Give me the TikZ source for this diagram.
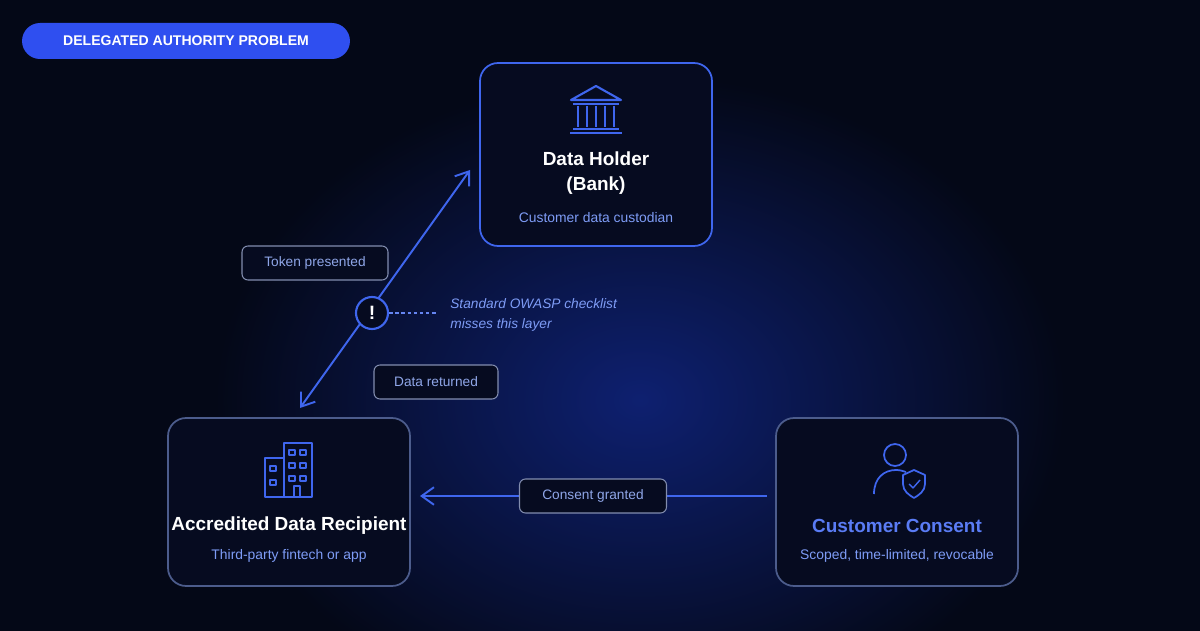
\documentclass[tikz,border=0pt]{standalone}
\usepackage{fontspec}
\setmainfont{Liberation Sans}
\usetikzlibrary{arrows.meta}
\definecolor{bg}{HTML}{040817}
\definecolor{glow}{HTML}{0E2070}
\definecolor{boxfill}{HTML}{060B20}
\definecolor{blueline}{HTML}{3F66EE}
\definecolor{greyline}{HTML}{4C5C8C}
\definecolor{subtxt}{HTML}{7E9CF6}
\definecolor{pill}{HTML}{2F4FF0}
\definecolor{lbltxt}{HTML}{8FA6E8}
\definecolor{titletxt}{HTML}{5A7CF5}
\tikzset{
  box/.style={draw=#1, line width=1pt, fill=boxfill, rounded corners=0.36cm},
  lbl/.style={draw=greyline!70, line width=0.6pt, fill=boxfill, rounded corners=0.12cm, text=lbltxt, font=\fontsize{7.8}{10}\selectfont, minimum height=0.68cm},
  ttl/.style={font=\bfseries\fontsize{10.8}{14}\selectfont, text=white, align=center},
  sub/.style={font=\fontsize{7.9}{10}\selectfont, text=subtxt},
  icon/.style={draw=blueline, line width=1pt, line join=round},
  conn/.style={draw=blueline, line width=1.1pt}
}
\begin{document}
\begin{tikzpicture}[x=0.02cm,y=-0.02cm]
\fill[bg] (0,0) rectangle (1200,631);
\begin{scope}
\clip (0,0) rectangle (1200,631);
\shade[inner color=glow, outer color=bg] (640,400) ellipse (8.5cm and 6.5cm);
\end{scope}
\useasboundingbox (0,0) rectangle (1200,631);

% title pill
\node[fill=pill, rounded corners=0.36cm, minimum width=6.56cm, minimum height=0.72cm, text=white, font=\bfseries\fontsize{8}{10}\selectfont] (title) at (186,41) {DELEGATED AUTHORITY PROBLEM};

% main boxes
\node[box=blueline, minimum width=4.64cm, minimum height=3.66cm] (dh) at (596,154.5) {};
\node[box=greyline, minimum width=4.84cm, minimum height=3.36cm] (adr) at (289,502) {};
\node[box=greyline, minimum width=4.84cm, minimum height=3.36cm] (cc) at (897,502) {};

% texts
\node[ttl] (dht) at (596,173) {Data Holder\\(Bank)};
\node[sub] (dhs) at (596,218) {Customer data custodian};
\node[ttl] (adrt) at (289,526) {Accredited Data Recipient};
\node[sub] (adrs) at (289,556) {Third-party fintech or app};
\node[ttl, text=titletxt] (cct) at (897,526) {Customer Consent};
\node[sub] (ccs) at (897,556) {Scoped, time-limited, revocable};

% bank icon
\draw[icon, line width=1.2pt] (571,100) -- (596,86) -- (621,100) -- cycle;
\draw[icon] (573,104) -- (619,104);
\foreach \xx in {578,587,596,605,614} \draw[icon] (\xx,106) -- (\xx,127);
\draw[icon] (573,129) -- (619,129);
\draw[icon, line width=1.3pt] (570,133) -- (622,133);

% building icon
\draw[icon] (284,443) rectangle (312,497);
\draw[icon] (265,458) rectangle (284,497);
\foreach \yy in {450,463,476} {\draw[icon,line width=0.8pt] (289,\yy) rectangle (295,\yy+5); \draw[icon,line width=0.8pt] (300,\yy) rectangle (306,\yy+5);}
\foreach \yy in {466,480} \draw[icon,line width=0.8pt] (270,\yy) rectangle (276,\yy+5);
\draw[icon,line width=0.8pt] (294,497) -- (294,486) -- (300,486) -- (300,497);

% person icon
\draw[icon] (895,455) circle (0.22cm);
\draw[icon] (874,494) .. controls (874,478) and (884,470) .. (896,470) .. controls (900,470) and (903,471) .. (906,472);
\draw[icon] (914,470) -- (925,475) -- (925,484) .. controls (925,491) and (919,495) .. (914,498) .. controls (909,495) and (903,491) .. (903,484) -- (903,475) -- cycle;
\draw[icon,line width=0.8pt] (909,484) -- (913,488) -- (920,480);

% diagonal connector
\coordinate (a1) at (470,170);
\coordinate (a2) at (300,408);
\draw[conn, {Straight Barb[length=7pt,width=10pt]}-{Straight Barb[length=7pt,width=10pt]}] (a2) -- (a1);
\node[circle, draw=blueline, line width=1.2pt, fill=boxfill, minimum size=0.64cm, inner sep=0pt, text=white, font=\bfseries\fontsize{11}{12}\selectfont] (alert) at (372,313) {!};
\coordinate (d2) at (438,313);
\draw[blueline!80, dashed, dash pattern=on 2pt off 1.5pt, line width=0.7pt] (alert.east) -- (d2);
\node[anchor=north west, align=left, text=subtxt, font=\itshape\fontsize{7.8}{11.3}\selectfont, inner sep=0pt] (owasp) at (450,298) {Standard OWASP checklist\\misses this layer};

\node[lbl, minimum width=2.92cm] (tok) at (315,263) {Token presented};
\node[lbl, minimum width=2.48cm] (ret) at (436,382) {Data returned};

% consent connector
\coordinate (c1) at (767,496);
\coordinate (c2) at (420,496);
\draw[conn, -{Straight Barb[length=7pt,width=10pt]}] (c1) -- (c2);
\node[lbl, minimum width=2.94cm] (cg) at (593,496) {Consent granted};
\end{tikzpicture}
\end{document}
